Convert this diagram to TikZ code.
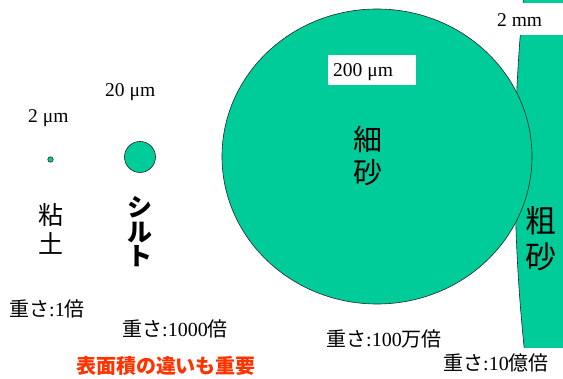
\documentclass[tikz,border=0pt]{standalone}
\usepackage{fontspec}
\setmainfont{Liberation Serif}
\newfontfamily\jp{Noto Sans CJK JP}
\definecolor{sg}{RGB}{0,204,153}
\definecolor{rd}{RGB}{255,51,0}
\tikzset{
  grain/.style={fill=sg, draw=black!85, line width=0.6pt},
  sizelbl/.style={anchor=base west, inner sep=0pt, font=\fontsize{19.5}{20}\selectfont},
  wlbl/.style={anchor=base west, inner sep=0pt, font=\fontsize{20}{22}\selectfont},
  vlbl/.style={align=center, inner sep=0pt},
  wbox/.style={fill=white, draw=none}
}
\begin{document}
\begin{tikzpicture}[x=1pt, y=-1pt]
\useasboundingbox (0,0) rectangle (563,379);
% coarse sand (huge circle, clipped)
\begin{scope}
  \clip (0,0) rectangle (563,379);
  \fill[grain] (2215,170) circle (1700);
\end{scope}
% fine sand
\fill[grain] (377,156.5) ellipse [x radius=155, y radius=147.5];
% silt, clay
\fill[grain] (140,157) circle (15.5);
\fill[grain] (50.5,159.5) circle (2.7);
% white label boxes
\fill[wbox] (328,55) rectangle (416,85);
\fill[wbox] (489,3) rectangle (563,35);
\fill[wbox] (438,348) rectangle (563,379);
% size labels
\node[sizelbl] (s2) at (28,123) {2 μm};
\node[sizelbl] (s20) at (105,97) {20 μm};
\node[sizelbl] (s200) at (333,77) {200 μm};
\node[sizelbl] (s2mm) at (497,27) {2 mm};
% names (vertical)
\node[vlbl, font=\jp\fontsize{25}{29}\selectfont] (clay) at (51,229) {粘\\土};
\node[vlbl, font=\jp\bfseries\fontsize{25}{24.5}\selectfont] (silt) at (140,232) {シ\\ル\\ト};
\node[vlbl, font=\jp\fontsize{29}{33}\selectfont] (fine) at (368,156) {細\\砂};
\node[vlbl, font=\jp\fontsize{31}{36}\selectfont] (coarse) at (541,238.5) {粗\\砂};
% weights
\node[wlbl] (w1) at (9,317) {{\jp 重さ}:1{\jp 倍}};
\node[wlbl] (w2) at (122,337) {{\jp 重さ}:1000{\jp 倍}};
\node[wlbl] (w3) at (326,347) {{\jp 重さ}:100{\jp 万倍}};
\node[wlbl] (w4) at (443,371) {{\jp 重さ}:10{\jp 億倍}};
% note
\node[inner sep=0pt, text=rd, font=\jp\bfseries\fontsize{20}{22}\selectfont] (note) at (166,366) {表面積の違いも重要};
\end{tikzpicture}
\end{document}
